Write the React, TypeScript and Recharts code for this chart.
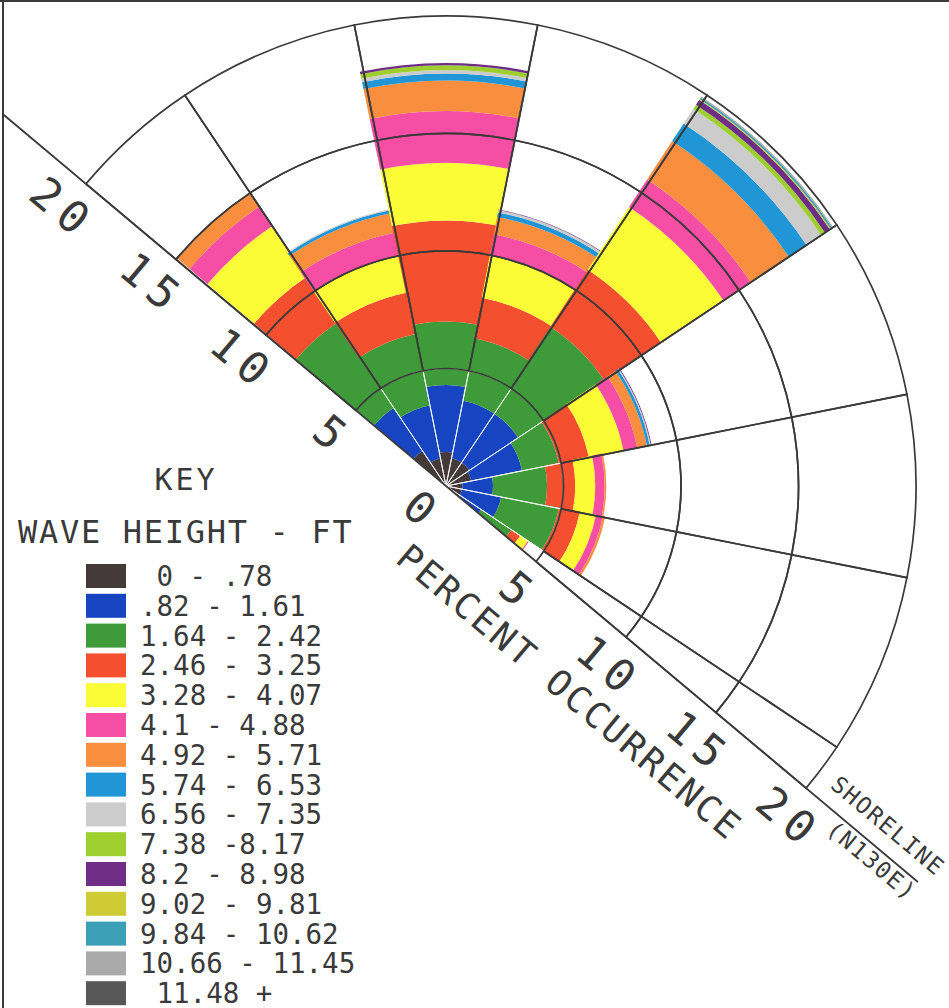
import React from 'react';
import {
  RadialBarChart,
  RadialBar,
  PolarAngleAxis,
  PolarRadiusAxis,
  PieChart,
  Pie,
  Cell,
} from 'recharts';

const W = 949;
const H = 1008;
const CX = 446;
const CY = 486;
const R_MAX = 470; // radius of the 20 % ring
const SHORE = 130; // shoreline bearing (N130E)

// wave height classes (ft) and their key colours
const heightClasses = [
  '0 - .78', '.82 - 1.61', '1.64 - 2.42', '2.46 - 3.25', '3.28 - 4.07',
  '4.1 - 4.88', '4.92 - 5.71', '5.74 - 6.53', '6.56 - 7.35', '7.38 -8.17',
  '8.2 - 8.98', '9.02 - 9.81', '9.84 - 10.62', '10.66 - 11.45', '11.48 +',
];
const heightColors = [
  '#453a3a', '#1744c0', '#3f9b3a', '#f4502f', '#fcfc36',
  '#f54ea4', '#f98e3f', '#2196d6', '#cbcccb', '#9dcf2f',
  '#6f2d86', '#cfcb35', '#3b9fb5', '#aaaaaa', '#575757',
];

// approach directions on the sea side of the shoreline
const directions = ['NW', 'NNW', 'N', 'NNE', 'NE', 'ENE', 'E', 'ESE', 'SE'];
const bearings = [315, 337.5, 0, 22.5, 45, 67.5, 90, 112.5, 135];

// percent occurrence per wave height class, one list per direction
const pctNW = [1.8, 2.2, 4.35, 2.35, 2.6, 1.0, 0.7];
const pctNNW = [1.2, 2.3, 3.1, 1.8, 1.6, 1.0, 0.85, 0.12, 0.05];
const pctN = [1.45, 2.85, 2.7, 4.3, 2.45, 2.2, 1.3, 0.3, 0.15, 0.2, 0.1];
const pctNNE = [1.2, 2.5, 2.7, 1.75, 1.85, 0.9, 0.75, 0.2, 0.1, 0, 0.03];
const pctNE = [1.2, 2.5, 4.4, 2.9, 3.2, 1.4, 1.95, 0.9, 0.75, 0.2, 0.25, 0.04, 0.08, 0.05];
const pctENE = [1.1, 2.2, 1.6, 1.3, 1.5, 0.6, 0.42, 0.12, 0.05, 0, 0.03];
const pctE = [0.7, 1.3, 2.3, 1.2, 0.85, 0.4, 0.07];
const pctESE = [0.7, 1.7, 2.5, 0.9, 0.7, 0.3, 0.1];
const pctSE = [0.7, 1.1, 1.55, 0.45, 0.4, 0.05];

const ringTicks = [0, 5, 10, 15, 20];

const pctByDir = [pctNW, pctNNW, pctN, pctNNE, pctNE, pctENE, pctE, pctESE, pctSE];

// chart angles: recharts 0 = east, counter-clockwise. t runs clockwise from NW end of shoreline
const shoreStart = 270 - SHORE; // 140
const sectors = directions.map((dir, i) => {
  const t = (bearings[i] - (SHORE + 180) + 720) % 360;
  const t0 = Math.max(0, t - 11.25);
  const t1 = Math.min(180, t + 11.25);
  const row: any = { dir };
  heightClasses.forEach((_, k) => {
    row['h' + k] = pctByDir[i][k] ?? 0;
  });
  // low / high chart angle of the sector
  return { dir, lo: shoreStart - t1, hi: shoreStart - t0, row };
});

const gridData = sectors.map((s) => ({ dir: s.dir, span: s.hi - s.lo }));
const rMax = ringTicks[ringTicks.length - 1];
const rings = ringTicks.slice(1).map((v, k) => [
  (ringTicks[k] / rMax) * R_MAX,
  (v / rMax) * R_MAX,
]);

const rad = (shoreStart * Math.PI) / 180;
// unit vector along shoreline (down-right) and normal to the lower-left side
const UX = -Math.cos(rad);
const UY = Math.sin(rad);
const NX = -UY;
const NY = UX;
const ROT = (Math.atan2(UY, UX) * 180) / Math.PI;

const mono = '"DejaVu Sans Mono", monospace';
const ink = '#3a3a3a';

const along = (a: number, p: number) => [CX + a * UX + p * NX, CY + a * UY + p * NY];

const shoreTick = (props: any, rightSide: boolean) => {
  const { x, y, payload } = props;
  if (rightSide && payload.value === 0) return <g />;
  const shift = rightSide ? 6 : -2;
  const px = x + 33 * NX + shift * UX;
  const py = y + 33 * NY + shift * UY;
  return (
    <text
      x={px}
      y={py}
      dy="0.36em"
      textAnchor="middle"
      fontFamily={mono}
      fontSize={44}
      letterSpacing={8}
      fill={ink}
      transform={`rotate(${ROT} ${px} ${py})`}
    >
      {payload.value}
    </text>
  );
};

const RotText = ({ a, p, size, spacing, children }: any) => {
  const [x, y] = along(a, p);
  return (
    <text
      x={x}
      y={y}
      dy="0.36em"
      textAnchor="middle"
      fontFamily={mono}
      fontSize={size}
      letterSpacing={spacing}
      fill={ink}
      transform={`rotate(${ROT} ${x} ${y})`}
    >
      {children}
    </text>
  );
};

const layer: React.CSSProperties = { position: 'absolute', left: 0, top: 0 };

export default function App() {
  const [sx1, sy1] = along(-(CX - 3) / UX, 0);
  const [sx2, sy2] = along(616, 0);
  return (
    <div style={{ position: 'absolute', left: 0, top: 0, width: W, height: H, background: '#fff' }}>
      {sectors.map((s, i) => (
        <div key={s.dir} style={layer}>
          {/* the single band is drawn from startAngle, sweeping by (startAngle - endAngle) */}
          <RadialBarChart
            width={W}
            height={H}
            cx={CX}
            cy={CY}
            innerRadius={0}
            outerRadius={R_MAX}
            startAngle={s.lo}
            endAngle={2 * s.lo - s.hi}
            data={[s.row]}
            layout="centric"
            barCategoryGap={0}
            margin={{ top: 0, right: 0, bottom: 0, left: 0 }}
          >
            <PolarAngleAxis type="category" dataKey="dir" tick={false} axisLine={false} />
            <PolarRadiusAxis
              type="number"
              domain={[0, rMax]}
              ticks={ringTicks}
              angle={i === sectors.length - 1 ? shoreStart - 180 : shoreStart}
              axisLine={false}
              tickLine={false}
              tick={i === 0 || i === sectors.length - 1 ? (p: any) => shoreTick(p, i !== 0) : false}
            />
            {heightClasses.map((c, k) => (
              <RadialBar
                key={c}
                dataKey={'h' + k}
                stackId="wave"
                fill={heightColors[k]}
                isAnimationActive={false}
              />
            ))}
          </RadialBarChart>
        </div>
      ))}

      <div style={layer}>
        <PieChart width={W} height={H} margin={{ top: 0, right: 0, bottom: 0, left: 0 }}>
          {rings.map(([r0, r1], k) => (
            <Pie
              key={k}
              data={gridData}
              dataKey="span"
              nameKey="dir"
              cx={CX}
              cy={CY}
              innerRadius={r0}
              outerRadius={r1}
              startAngle={shoreStart}
              endAngle={shoreStart - 180}
              isAnimationActive={false}
            >
              {gridData.map((g) => (
                <Cell
                  key={g.dir}
                  fill="none"
                  stroke={k === 0 ? '#f4f4f4' : ink}
                  strokeWidth={k === 0 ? 1 : 1.7}
                />
              ))}
            </Pie>
          ))}
        </PieChart>
      </div>

      <svg width={W} height={H} style={layer}>
        <line x1={0} y1={1} x2={W} y2={1} stroke={ink} strokeWidth={2} />
        <line x1={3} y1={0} x2={3} y2={H} stroke={ink} strokeWidth={2} />
        <line x1={sx1} y1={sy1} x2={sx2} y2={sy2} stroke={ink} strokeWidth={1.8} />

        <RotText a={227} p={78} size={36} spacing={2.6}>PERCENT OCCURRENCE</RotText>
        <RotText a={557} p={-24} size={23} spacing={1.7}>SHORELINE</RotText>
        <RotText a={567} p={13} size={23} spacing={1.7}>(N130E)</RotText>

        <text x={186} y={490} textAnchor="middle" fontFamily={mono} fontSize={30} letterSpacing={3} fill={ink}>
          KEY
        </text>
        <text x={18} y={543} fontFamily={mono} fontSize={32} letterSpacing={1.7} fill={ink}>
          WAVE HEIGHT - FT
        </text>
        {heightClasses.map((c, k) => {
          const yc = 576 + k * 29.8;
          // short labels sit one character cell further in, as on the plotter key
          const indent = c.length < 8 ? 16.5 : 0;
          return (
            <g key={c}>
              <rect x={86} y={yc - 12} width={40} height={24} fill={heightColors[k]} />
              <text x={140 + indent} y={yc + 10} fontFamily={mono} fontSize={27.5} fill={ink}>
                {c}
              </text>
            </g>
          );
        })}
      </svg>
    </div>
  );
}
